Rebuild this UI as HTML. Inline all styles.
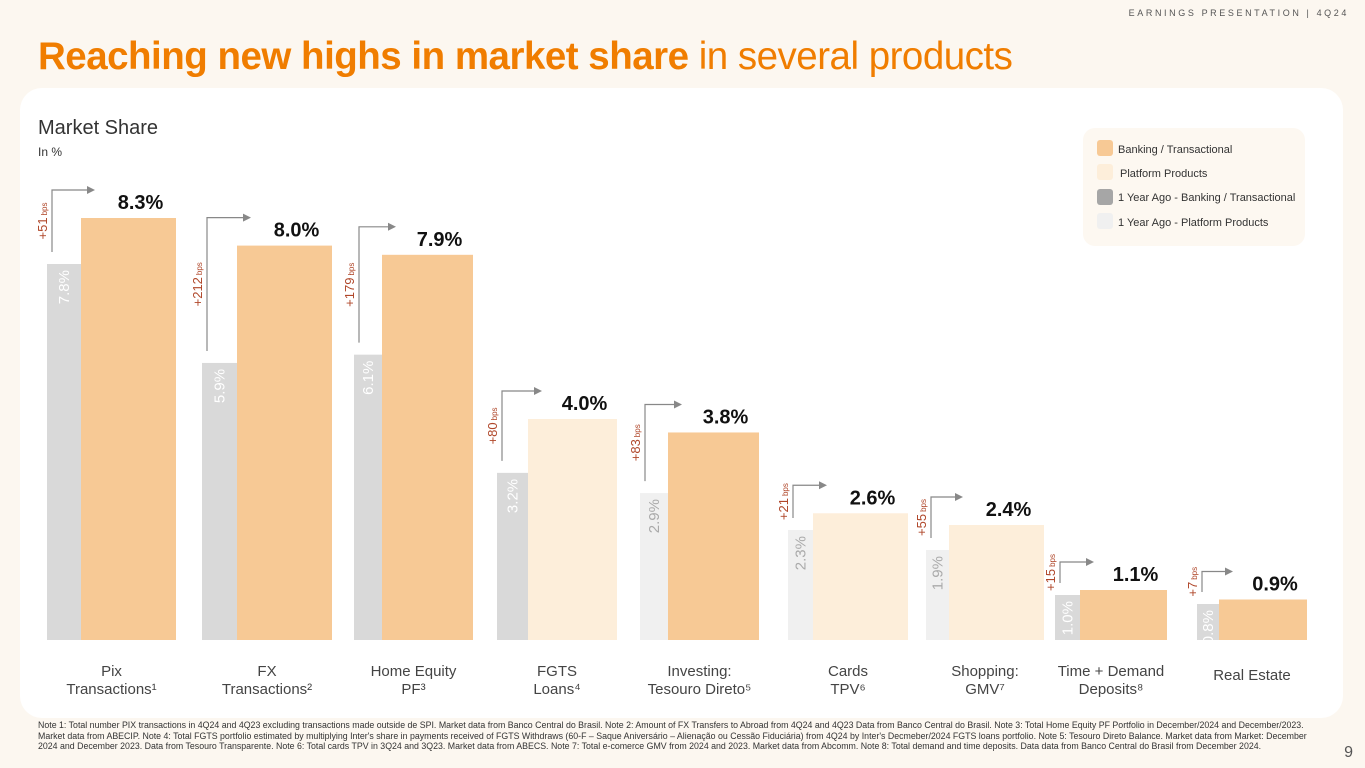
<!DOCTYPE html>
<html><head><meta charset="utf-8"><style>
body{margin:0;width:1365px;height:768px;background:#fcf7f0;font-family:"Liberation Sans",sans-serif;overflow:hidden;position:relative}
.hdr{position:absolute;right:16px;top:8px;font-size:9px;letter-spacing:2.6px;color:#555}
.title{position:absolute;left:38px;top:35px;font-size:38.5px;color:#f07d00;letter-spacing:-0.5px}
.title b{font-weight:bold}
.panel{position:absolute;left:20px;top:88px;width:1323px;height:630px;background:#fff;border-radius:22px}
.notes{position:absolute;left:38px;top:720px;width:1270px;font-size:8.8px;line-height:10.5px;color:#333}
.pg{position:absolute;right:12px;top:744px;font-size:16px;color:#555}
svg{position:absolute;left:0;top:0}
</style></head><body>
<div class="hdr">EARNINGS PRESENTATION | 4Q24</div>
<div class="title"><b>Reaching new highs in market share</b> in several products</div>
<div class="panel"></div>
<svg id="chart" width="1365" height="768">
<text x="38" y="134" font-size="20" fill="#333">Market Share</text>
<text x="38" y="156" font-size="12" fill="#333">In %</text>
<g>
<rect x="1083" y="128" width="222" height="118" rx="12" fill="#fdf8f1"/>
<rect x="1097" y="140" width="16" height="16" rx="3" fill="#f7c995"/><text x="1118" y="153" font-size="11" fill="#333">Banking / Transactional</text>
<rect x="1097" y="164" width="16" height="16" rx="3" fill="#fdeeda"/><text x="1120" y="177" font-size="11" fill="#333">Platform Products</text>
<rect x="1097" y="189" width="16" height="16" rx="3" fill="#a6a6a6"/><text x="1118" y="201" font-size="11" fill="#333">1 Year Ago - Banking / Transactional</text>
<rect x="1097" y="213" width="16" height="16" rx="3" fill="#f0f0f0"/><text x="1118" y="226" font-size="11" fill="#333">1 Year Ago - Platform Products</text>
</g>
<g id="bars"></g>
</svg>
<div class="notes">Note 1: Total number PIX transactions in 4Q24 and 4Q23 excluding transactions made outside de SPI. Market data from Banco Central do Brasil. Note 2: Amount of FX Transfers to Abroad from 4Q24 and 4Q23 Data from Banco Central do Brasil. Note 3: Total Home Equity PF Portfolio in December/2024 and December/2023. Market data from ABECIP. Note 4: Total FGTS portfolio estimated by multiplying Inter's share in payments received of FGTS Withdraws (60-F – Saque Aniversário – Alienação ou Cessão Fiduciária) from 4Q24 by Inter's Decmeber/2024 FGTS loans portfolio. Note 5: Tesouro Direto Balance. Market data from Market: December 2024 and December 2023. Data from Tesouro Transparente. Note 6: Total cards TPV in 3Q24 and 3Q23. Market data from ABECS. Note 7: Total e-comerce GMV from 2024 and 2023. Market data from Abcomm. Note 8: Total demand and time deposits. Data data from Banco Central do Brasil from December 2024.</div>
<div class="pg">9</div>
<script>
const categories=[["Pix","Transactions¹"],["FX","Transactions²"],["Home Equity","PF³"],["FGTS","Loans⁴"],["Investing:","Tesouro Direto⁵"],["Cards","TPV⁶"],["Shopping:","GMV⁷"],["Time + Demand","Deposits⁸"],["Real Estate",""]];
const currentValues=[8.3,8.0,7.9,4.0,3.8,2.6,2.4,1.1,0.9];
const yearAgoValues=[7.8,5.9,6.1,3.2,2.9,2.3,1.9,1.0,0.8];
const bpsChange=[51,212,179,80,83,21,55,15,7];
const productType=["B","B","B","P","B","P","P","B","B"];
const yearAgoType=["B","B","B","B","P","P","P","B","B"];
const NS="http://www.w3.org/2000/svg";
const g=document.getElementById('bars');
const baseY=640;
// piecewise (non-linear) value axis approximating the slide's visual scale
const scaleDomain=[0,1,2.5,4,6,7.8,8.3],scaleRange=[0,45,120,221,280,376,422];
function y(v){
  for(let k=1;k<scaleDomain.length;k++){
    if(v<=scaleDomain[k]||k==scaleDomain.length-1){
      const d0=scaleDomain[k-1],d1=scaleDomain[k],r0=scaleRange[k-1],r1=scaleRange[k];
      return baseY-(r0+(v-d0)/(d1-d0)*(r1-r0));
    }
  }
}
const groupX=[47,202,354,497,640,788,926,1055,1197];
const grayW=[34,35,28,31,28,25,23,25,22];
const orangeW=[95,95,91,89,91,95,95,87,88];
function mk(t,a,txt){const e=document.createElementNS(NS,t);for(const k in a)e.setAttribute(k,a[k]);if(txt!==undefined)e.textContent=txt;g.appendChild(e);return e;}
categories.forEach((c,i)=>{
  const x0=groupX[i],gw=grayW[i],ow=orangeW[i],ox=x0+gw;
  const gy=y(yearAgoValues[i]),oy=y(currentValues[i]);
  let r=mk('rect',{x:x0,y:gy,width:gw,height:baseY-gy,fill:yearAgoType[i]=="B"?"#d9d9d9":"#f0f0f0"});
  
  r=mk('rect',{x:ox,y:oy,width:ow,height:baseY-oy,fill:productType[i]=="B"?"#f7c995":"#fdeeda"});
  
  let t=mk('text',{x:0,y:0,'font-size':15,fill:yearAgoType[i]=="B"?"#fff":"#aaa",'text-anchor':'end',transform:`translate(${x0+gw/2+5},${gy+6}) rotate(-90)`},yearAgoValues[i].toFixed(1)+'%');
  
  t=mk('text',{x:ox+ow/2+12,y:oy-9,'font-size':20,'font-weight':'bold',fill:'#111','text-anchor':'middle'},currentValues[i].toFixed(1)+'%');
  
  const ax=x0+5,atop=oy-28,abot=gy-12;
  let p=mk('path',{d:`M${ax},${abot}V${atop}H${ox+8}`,fill:'none',stroke:'#888','stroke-width':1.2});
  
  p=mk('path',{d:`M${ox+6},${atop-4}L${ox+14},${atop}L${ox+6},${atop+4}Z`,fill:'#888'});
  
  t=mk('text',{x:0,y:0,'font-size':13,fill:'#b0472a','text-anchor':'middle',transform:`translate(${ax-5},${(atop+abot)/2}) rotate(-90)`});
  t.innerHTML=`+${bpsChange[i]}<tspan font-size="8" dx="2">bps</tspan>`;
  
  const cx=x0+(gw+ow)/2;
  c.forEach((line,k)=>{if(!line)return;
    t=mk('text',{x:cx,y:(c[1]?676:680)+k*18,'font-size':15,fill:'#444','text-anchor':'middle'},line);
    });
});
</script>
</body></html>
